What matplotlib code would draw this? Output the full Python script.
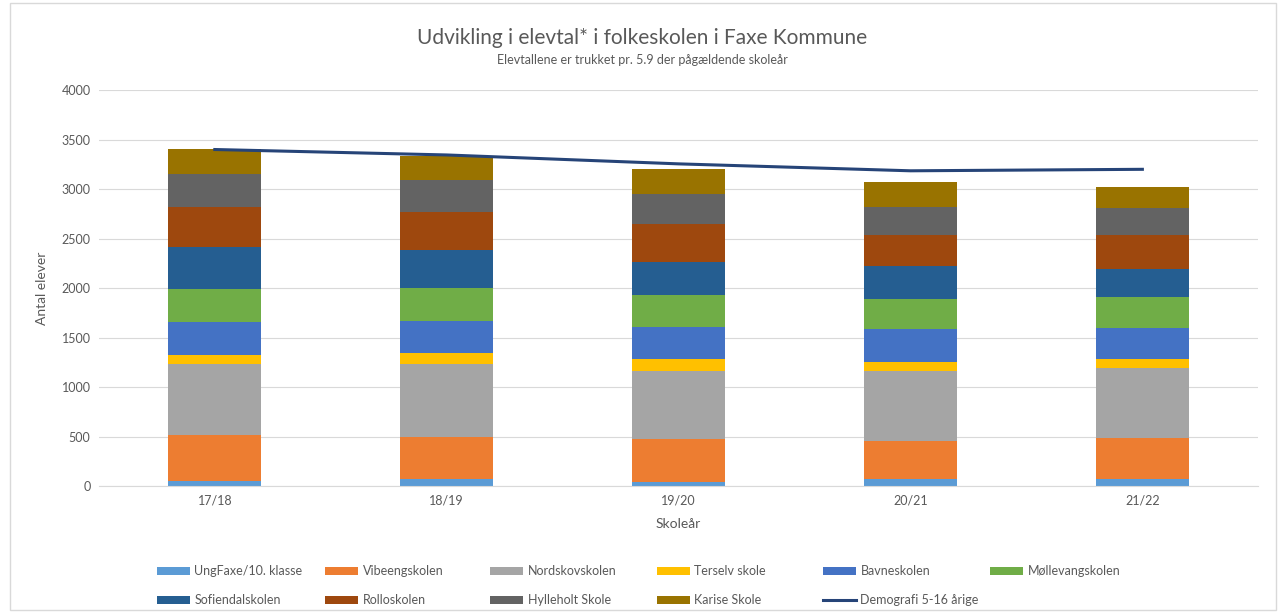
import numpy as np
import matplotlib.pyplot as plt
from matplotlib.patches import Rectangle

plt.rcParams['font.family'] = ['Lato', 'DejaVu Sans']

# data
years = ["17/18", "18/19", "19/20", "20/21", "21/22"]
ungfaxe = [50, 68, 43, 68, 68]
vibeeng = [465, 430, 429, 387, 417]
nordskov = [715, 731, 693, 710, 707]
terslev = [97, 111, 115, 87, 88]
bavne = [330, 327, 329, 331, 316]
moellevang = [330, 333, 317, 306, 316]
sofiendal = [425, 390, 339, 330, 280]
rollo = [405, 380, 381, 313, 340]
hylleholt = [333, 327, 303, 283, 273]
karise = [252, 239, 250, 259, 218]
demografi = [3400, 3345, 3255, 3185, 3200]

series = [
    ("UngFaxe/10. klasse", ungfaxe, "#5B9BD5"),
    ("Vibeengskolen", vibeeng, "#ED7D31"),
    ("Nordskovskolen", nordskov, "#A5A5A5"),
    ("Terselv skole", terslev, "#FFC000"),
    ("Bavneskolen", bavne, "#4472C4"),
    ("Møllevangskolen", moellevang, "#70AD47"),
    ("Sofiendalskolen", sofiendal, "#255E91"),
    ("Rolloskolen", rollo, "#9E480E"),
    ("Hylleholt Skole", hylleholt, "#636363"),
    ("Karise Skole", karise, "#997300"),
]

fig = plt.figure(figsize=(12.84, 6.13), dpi=100)
ax = fig.add_axes([0.077, 0.207, 0.903, 0.646])

x = np.arange(len(years))
bottom = np.zeros(len(years))
handles = []
for name, vals, col in series:
    b = ax.bar(x, vals, 0.4, bottom=bottom, color=col, label=name, zorder=2)
    bottom += np.array(vals)
    handles.append(b)

ln, = ax.plot(x, demografi, color="#264478", lw=2.2, label="Demografi 5-16 årige", zorder=3)
handles.append(ln)

ax.set_xlim(-0.5, len(years) - 0.5)
ax.set_ylim(0, 4000)
ax.set_yticks(range(0, 4001, 500))
ax.set_xticks(x)
ax.set_xticklabels(years)
ax.tick_params(length=0, labelsize=9, colors="#595959", pad=6)
ax.grid(axis="y", color="#D9D9D9", lw=0.8, zorder=0)
for s in ["top", "right", "left"]:
    ax.spines[s].set_visible(False)
ax.spines["bottom"].set_color("#D9D9D9")
ax.set_xlabel("Skoleår", fontsize=10, color="#595959", labelpad=8)
ax.set_ylabel("Antal elever", fontsize=10, color="#595959", labelpad=10)

fig.text(0.5, 0.938, "Udvikling i elevtal* i folkeskolen i Faxe Kommune",
         ha="center", va="center", fontsize=15, color="#595959")
fig.text(0.5, 0.902, "Elevtallene er trukket pr. 5.9 der pågældende skoleår",
         ha="center", va="center", fontsize=9, color="#595959")

# legend: 6 columns, filled row-wise, one legend per column
col_x = [157, 325, 490, 657, 823, 990]
for i, cx in enumerate(col_x):
    hs = handles[i::6]
    leg = fig.legend(hs, [h.get_label() for h in hs], loc="upper left",
                     bbox_to_anchor=(cx / 1284, 1 - 565 / 613), frameon=False,
                     fontsize=9, handlelength=2.6, handleheight=0.6,
                     handletextpad=0.4, labelspacing=1.4, borderpad=0,
                     borderaxespad=0, labelcolor="#595959")

fig.patches.append(Rectangle((0.008, 0.005), 0.986, 0.99, transform=fig.transFigure,
                             fill=False, edgecolor="#D9D9D9", lw=1))

fig.savefig("out.png", dpi=100)
